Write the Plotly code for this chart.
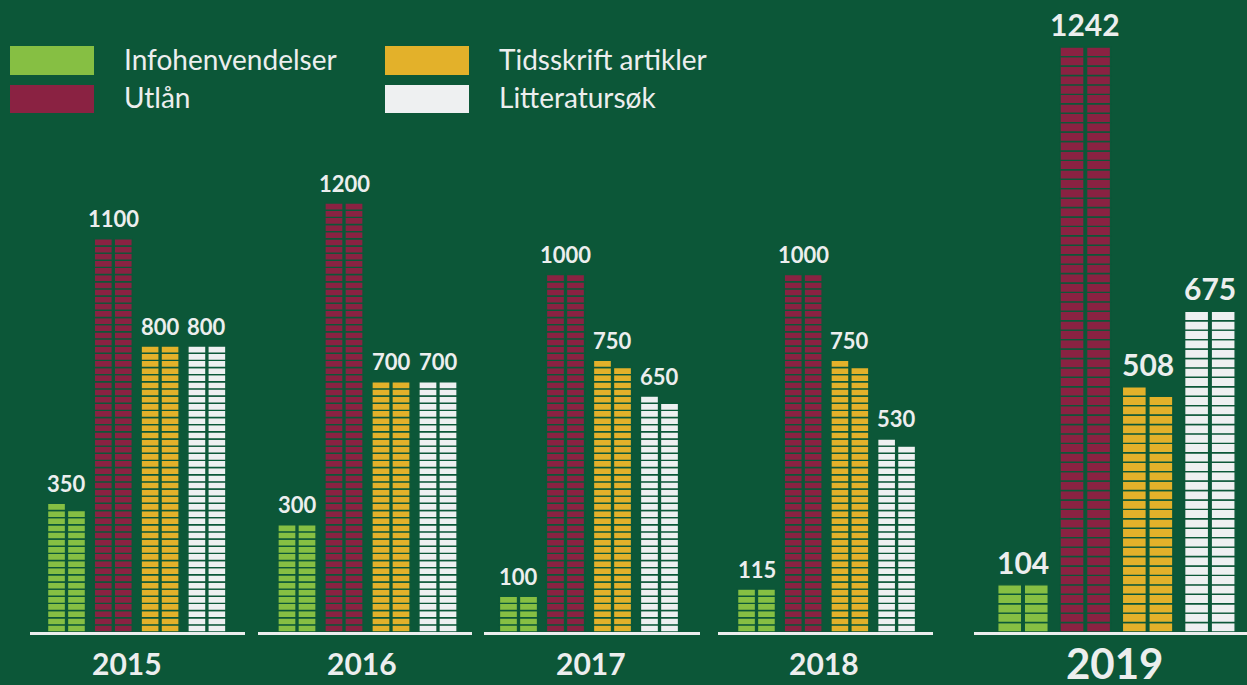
import math
import plotly.graph_objects as go

# ---- data ----
years = ["2015", "2016", "2017", "2018", "2019"]
series_names = ["Infohenvendelser", "Utlån", "Tidsskrift artikler", "Litteratursøk"]
infohenvendelser = [350, 300, 100, 115, 104]
utlan = [1100, 1200, 1000, 1000, 1242]
tidsskrift_artikler = [800, 700, 750, 750, 508]
litteratursok = [800, 700, 650, 530, 675]
series_values = [infohenvendelser, utlan, tidsskrift_artikler, litteratursok]

# ---- style ----
BG = "#0c5738"
TXT = "#eceeee"
colors = ["#86bf43", "#8a2242", "#e3b12a", "#eef0f1"]
W, H = 1247, 685
FONT = "Lato"
BLOCK = 10          # value represented by one block
UNIT = 20           # y-units per block (two columns share the value)

# panel layout in pixels: baseline start/end, first group centre, group pitch, y max
panels = [
    dict(start=30, end=245, x0=66.5, pitch=46.8, ymax=1768, lab=22, yshift=20, yr=30, yx=126.5, yy=662.5),
    dict(start=258, end=472, x0=297.0, pitch=47.0, ymax=1768, lab=22, yshift=20, yr=30, yx=362.0, yy=662.5),
    dict(start=484, end=700, x0=518.5, pitch=47.0, ymax=1768, lab=22, yshift=20, yr=30, yx=590.5, yy=662.5),
    dict(start=718, end=933, x0=756.5, pitch=46.7, ymax=1768, lab=22, yshift=20, yr=30, yx=824.0, yy=662.5),
    dict(start=974, end=1247, x0=1023.0, pitch=62.3, ymax=1340, lab=30, yshift=23, yr=42, yx=1114.5, yy=663.0),
]
BASE_PX = 632
OFF = 0.213
BW = 0.385

fig = go.Figure()
annotations = []
layout = {}

for p, (yr, cfg) in enumerate(zip(years, panels)):
    sfx = "" if p == 0 else str(p + 1)
    xa, ya = "x" + sfx, "y" + sfx
    for s, (name, vals) in enumerate(zip(series_names, series_values)):
        v = vals[p]
        n = int(v / BLOCK + 0.5)
        left, right = math.ceil(n / 2), n // 2
        xs = [s - OFF] * left + [s + OFF] * right
        bases = [UNIT * k for k in range(left)] + [UNIT * k for k in range(right)]
        ys = [UNIT] * (left + right)
        fig.add_trace(go.Bar(
            x=xs, y=ys, base=bases, width=BW, name=name,
            marker=dict(color=colors[s], line=dict(color=BG, width=1.4)),
            xaxis=xa, yaxis=ya, showlegend=False, hoverinfo="skip",
        ))
        annotations.append(dict(
            x=s, y=left * UNIT, xref=xa, yref=ya, text=str(v), showarrow=False,
            xanchor="center", yanchor="middle", yshift=cfg["yshift"],
            font=dict(family=FONT, size=cfg["lab"], color=TXT, weight="bold"),
        ))
    layout["xaxis" + sfx] = dict(
        domain=[cfg["start"] / W, cfg["end"] / W],
        range=[(cfg["start"] - cfg["x0"]) / cfg["pitch"], (cfg["end"] - cfg["x0"]) / cfg["pitch"]],
        anchor=ya, showline=True, linecolor=TXT, linewidth=3, showgrid=False,
        zeroline=False, showticklabels=False, ticks="", fixedrange=True,
    )
    layout["yaxis" + sfx] = dict(
        domain=[(H - BASE_PX) / H, 1], range=[0, cfg["ymax"]], anchor=xa,
        visible=False, fixedrange=True,
    )
    annotations.append(dict(
        x=cfg["yx"] / W, y=1 - cfg["yy"] / H, xref="paper", yref="paper", text=yr,
        showarrow=False, xanchor="center", yanchor="middle",
        font=dict(family=FONT, size=cfg["yr"], color=TXT, weight="bold"),
    ))

# ---- legend (swatches + labels) ----
legend_pos = [(10, 46, 75), (10, 85, 113), (385, 46, 75), (385, 85, 113)]
shapes = []
for (lx, ty, by), c, name in zip(legend_pos, colors, series_names):
    shapes.append(dict(type="rect", xref="paper", yref="paper",
                       x0=lx / W, x1=(lx + 84) / W, y0=1 - by / H, y1=1 - ty / H,
                       fillcolor=c, line=dict(width=0), layer="above"))
    annotations.append(dict(
        x=(lx + 112) / W, y=1 - ((ty + by) / 2 - 2) / H, xref="paper", yref="paper",
        text=name, showarrow=False, xanchor="left", yanchor="middle",
        font=dict(family=FONT, size=28, color=TXT),
    ))

fig.update_layout(
    width=W, height=H, margin=dict(l=0, r=0, t=0, b=0),
    paper_bgcolor=BG, plot_bgcolor=BG, barmode="overlay",
    annotations=annotations, shapes=shapes, **layout,
)

fig.write_html(
    "out.html",
    config={"displayModeBar": False},
    post_script="document.body.style.margin='0';document.body.style.overflow='hidden';document.body.style.background='%s';" % BG,
)
